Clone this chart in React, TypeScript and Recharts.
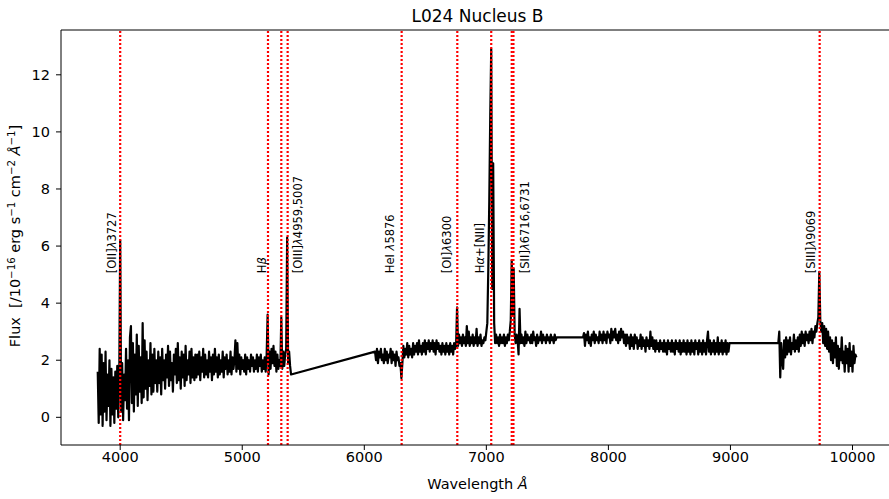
import { LineChart, Line, XAxis, YAxis, ReferenceLine, ReferenceDot } from 'recharts'

// spectrum pieces: wavelength grid start/step (Å), flux in 1e-16 erg/s/cm2/Å
const seg1Start = 3816
const seg1Step = 8
const seg1Flux = [
  1.6, -0.2, 2.4, 0.1, 2.2, -0.3, 1.9, 0.2, 2.3, -0.1,
  1.5, 0.4, 2.0, -0.3, 1.7, 0.1, 1.4, -0.2, 1.6, 0.3,
  1.8, 0.0, 1.2, 6.2, 0.2, 1.9, -0.1, 1.5, 0.6, 2.4,
  0.3, 2.0, -0.1, 2.8, 3.2, 0.5, 2.6, 0.2, 2.2, 0.8,
  2.9, 0.4, 2.5, 0.9, 2.1, 0.5, 3.3, 0.7, 2.7, 1.0,
  2.3, 0.6, 2.0, 1.1, 2.6, 0.8, 2.2, 0.9, 2.4, 1.2,
  2.0, 0.9, 2.3, 1.2, 2.1, 0.8, 2.4, 1.3, 2.0, 1.0,
  2.2, 1.4, 2.5, 1.1, 2.3, 1.3, 1.9, 0.9, 2.2, 1.5,
  2.4, 1.2, 2.6, 1.3, 2.1, 1.0, 2.3, 1.4, 2.2, 1.1,
  2.5, 1.3, 2.0, 1.5, 2.3, 1.2, 2.4, 1.4, 2.1, 1.3,
  2.2, 1.4, 2.2, 1.5, 2.3, 1.3, 2.1, 1.6, 2.4, 1.4,
  2.2, 1.5, 2.0, 1.4, 2.3, 1.6, 2.1, 1.3, 2.2, 1.5,
  2.4, 1.6, 2.1, 1.4, 2.2, 1.5, 2.0, 1.6, 2.3, 1.4,
  2.1, 1.7, 2.2, 1.5, 2.0, 1.6, 2.3, 1.5, 2.1, 1.7,
  2.0, 2.7, 1.6, 2.6, 1.7, 2.2, 1.5, 2.1, 1.7, 2.0,
  1.6, 2.2, 1.5, 2.1, 1.7, 2.0, 1.6, 2.2, 1.8, 2.1,
  1.6, 2.0, 1.7, 2.2, 1.6, 2.1, 1.8, 2.2, 1.6, 2.0,
  1.7, 2.1, 1.6, 2.2, 3.6, 1.5, 2.3, 1.7, 2.4, 1.9,
  2.5, 1.8, 2.3, 1.6, 2.2, 1.7, 2.0, 1.8, 3.5, 1.7,
  2.3, 1.8, 2.2, 2.4, 6.3, 1.9, 2.3, 1.8, 1.5,
]

const seg2Start = 6088
const seg2Step = 8
const seg2Flux = [
  2.3, 2.0, 2.4, 1.9, 2.3, 2.1, 2.4, 2.0, 2.2, 1.9,
  2.4, 2.0, 2.3, 1.9, 2.2, 2.1, 2.4, 1.9, 2.3, 2.0,
  2.2, 1.8, 2.3, 2.0, 2.1, 1.8, 1.9, 1.37, 1.9, 2.5,
  2.1, 2.4, 2.2, 2.6, 2.1, 2.5, 2.2, 2.4, 2.1, 2.6,
  2.2, 2.5, 2.3, 2.6, 2.2, 2.7, 2.3, 2.5, 2.2, 2.6,
  2.3, 2.7, 2.2, 2.6, 2.4, 2.7, 2.3, 2.6, 2.4, 2.7,
  2.3, 2.6, 2.2, 2.7, 2.4, 2.6, 2.3, 2.5, 2.2, 2.6,
  2.3, 2.5, 2.2, 2.6, 2.3, 2.5, 2.2, 2.6, 2.3, 2.5,
  2.2, 2.6, 2.4, 2.5, 3.85, 2.5, 2.9, 2.6, 2.8, 2.5,
  2.9, 2.6, 2.8, 2.5, 3.2, 2.6, 3.0, 2.5, 2.8, 2.6,
  2.9, 2.5, 2.8, 2.6, 3.1, 2.5, 2.8, 2.6, 2.9, 2.5,
  2.7, 2.6, 2.8, 2.7, 3.0, 3.3, 5.2, 7.6, 10.6, 12.9,
  4.5, 8.9, 3.3, 2.6, 2.9, 2.6, 2.8, 2.5, 2.9, 2.6,
  2.8, 2.6, 2.9, 2.5, 2.8, 2.6, 2.9, 2.7, 3.0, 3.4,
  5.5, 3.6, 5.2, 2.9, 2.6, 2.9, 2.7, 2.2, 3.8, 2.6,
  2.9, 2.6, 2.8, 2.5, 3.0, 2.6, 2.9, 2.7, 2.8, 2.6,
  2.9, 2.6, 3.0, 2.7, 2.8, 2.5, 2.9, 2.6, 2.8, 2.7,
  3.0, 2.6, 2.9, 2.7, 2.8, 2.6, 2.9, 2.7, 2.8, 2.6,
  2.9, 2.7, 2.8, 2.6, 2.9, 2.7, 2.8,
]

const seg3Start = 7792
const seg3Step = 8
const seg3Flux = [
  2.8, 2.95, 2.5, 2.9, 2.7, 3.0, 2.6, 2.8, 2.5, 2.9,
  2.7, 3.0, 2.6, 2.9, 2.7, 2.8, 2.6, 3.0, 2.7, 2.9,
  2.6, 3.0, 2.7, 2.9, 2.6, 3.0, 2.8, 2.9, 2.6, 3.1,
  2.7, 3.0, 2.8, 3.1, 2.7, 2.9, 2.6, 3.0, 2.7, 3.1,
  2.8, 3.0, 2.6, 2.9, 2.5, 2.9, 2.6, 2.8, 2.4, 2.9,
  2.5, 2.8, 2.4, 2.9, 2.6, 2.8, 2.4, 2.7, 2.5, 2.9,
  2.4, 2.8, 2.5, 2.7, 2.3, 2.8, 2.5, 2.7, 2.4, 3.0,
  2.5, 2.8, 2.4, 2.7, 2.3, 2.7, 2.4, 2.6, 2.3, 2.7,
  2.4, 2.6, 2.3, 2.7, 2.3, 2.6, 2.2, 2.7, 2.4, 2.6,
  2.3, 2.7, 2.3, 2.6, 2.2, 2.7, 2.4, 2.6, 2.3, 2.7,
  2.2, 2.6, 2.3, 2.7, 2.3, 2.6, 2.2, 2.7, 2.3, 2.6,
  2.2, 2.7, 2.3, 2.6, 2.2, 2.7, 2.4, 2.6, 2.2, 2.7,
  2.3, 2.6, 2.2, 2.7, 2.3, 2.6, 2.2, 2.7, 3.0, 2.3,
  2.7, 2.2, 2.6, 2.3, 2.7, 2.2, 2.6, 2.3, 2.8, 2.2,
  2.6, 2.3, 2.7, 2.2, 2.6, 2.3, 2.7, 2.2, 2.6, 2.3,
  2.6, 2.6,
]

const seg4Start = 9392
const seg4Step = 8
const seg4Flux = [
  2.6, 3.0, 1.4, 2.6, 2.0, 1.7, 2.7, 2.1, 2.8, 2.2,
  2.7, 2.3, 2.8, 2.2, 2.6, 2.4, 2.9, 2.3, 2.7, 2.4,
  2.8, 2.3, 2.9, 2.5, 3.0, 2.6, 2.9, 2.5, 3.0, 2.7,
  2.9, 2.6, 3.0, 2.7, 3.1, 2.6, 3.0, 2.8, 3.2, 3.0,
  3.3, 3.5, 5.1, 3.4, 3.0, 3.3, 2.6, 3.2, 2.5, 3.1,
  2.4, 3.0, 2.3, 2.8, 2.0, 2.7, 1.9, 2.6, 2.1, 2.8,
  1.8, 2.5, 1.7, 2.4, 2.0, 2.8, 1.9, 2.3, 1.6, 2.5,
  1.9, 2.4, 1.6, 2.6, 1.8, 2.3, 1.6, 2.5, 1.9, 2.2,
  2.1,
]

// observed positions of the marked lines (Å)
const lineWaves = [4000, 5211, 5320, 5372, 6306, 6762, 7040, 7208, 7222, 9731]
const labelTexts = ['[OII]λ3727', 'Hβ', '[OIII]λ4959,5007', 'HeI λ5876', '[OI]λ6300', 'Hα+[NII]', '[SII]λ6716,6731', '[SIII]λ9069']
const labelWaves = [3963, 5197, 5490, 6247, 6710, 6977, 7349, 9689]
const labelFlux = 5.05

const xTicks = [4000, 5000, 6000, 7000, 8000, 9000, 10000]
const yTicks = [0, 2, 4, 6, 8, 10, 12]
const xDomain = [3515, 10340]
const yDomain = [-0.97, 13.57]

const toPoints = (start: number, step: number, flux: number[]) =>
  flux.map((f, i) => ({ wl: start + i * step, flux: f }))

const data = [
  ...toPoints(seg1Start, seg1Step, seg1Flux),
  ...toPoints(seg2Start, seg2Step, seg2Flux),
  ...toPoints(seg3Start, seg3Step, seg3Flux),
  ...toPoints(seg4Start, seg4Step, seg4Flux),
]

const FONT = 'DejaVu Sans'

const greekParts = (s: string) =>
  s.split(/([αβλ])/).filter(Boolean).map((p, i) =>
    /[αβλ]/.test(p) ? <tspan key={i} fontStyle="italic">{p}</tspan> : <tspan key={i}>{p}</tspan>
  )

const LineLabel = ({ viewBox, text }: any) => {
  if (!viewBox) return null
  const cx = viewBox.x + (viewBox.width || 0) / 2
  const cy = viewBox.y + (viewBox.height || 0) / 2
  return (
    <text x={cx} y={cy} transform={`rotate(-90 ${cx} ${cy})`} fontSize={11.5} fontFamily={FONT} fill="#000" style={{ whiteSpace: 'pre' }}>
      {greekParts(text)}
    </text>
  )
}

const SUP = 5

export default function App() {
  return (
    <div style={{ position: 'absolute', left: 0, top: 0, width: 889, height: 499, overflow: 'hidden', background: '#fff' }}>
      <LineChart width={895} height={499} data={data} margin={{ top: 30, right: 1, bottom: 0, left: 0 }}>
        <XAxis
          dataKey="wl"
          type="number"
          domain={xDomain}
          ticks={xTicks}
          interval={0}
          allowDataOverflow
          height={54}
          tickSize={5}
          tickMargin={2}
          stroke="#000"
          axisLine={{ stroke: '#000', strokeWidth: 1 }}
          tickLine={{ stroke: '#000', strokeWidth: 1 }}
          tick={{ fill: '#000', fontSize: 14.5, fontFamily: FONT }}
        />
        <YAxis
          type="number"
          domain={yDomain}
          ticks={yTicks}
          interval={0}
          allowDataOverflow
          width={61}
          tickSize={5}
          tickMargin={6}
          stroke="#000"
          axisLine={{ stroke: '#000', strokeWidth: 1 }}
          tickLine={{ stroke: '#000', strokeWidth: 1 }}
          tick={{ fill: '#000', fontSize: 14.5, fontFamily: FONT }}
        />
        <Line
          type="linear"
          dataKey="flux"
          stroke="#000"
          strokeWidth={2.2}
          strokeLinejoin="round"
          dot={false}
          activeDot={false}
          isAnimationActive={false}
        />
        {lineWaves.map((w, i) => (
          <ReferenceLine key={'l' + i} x={w} stroke="#ff0000" strokeWidth={2.2} strokeDasharray="2 2" />
        ))}
        <ReferenceLine y={yDomain[1]} stroke="#000" strokeWidth={1} />
        {labelTexts.map((t, i) => (
          <ReferenceDot
            key={'t' + i}
            x={labelWaves[i]}
            y={labelFlux}
            r={1}
            fill="none"
            stroke="none"
            label={<LineLabel text={t} />}
          />
        ))}
      </LineChart>
      <svg width={889} height={499} style={{ position: 'absolute', left: 0, top: 0, pointerEvents: 'none' }}>
        <text x={477.5} y={21.7} textAnchor="middle" fontSize={17} fontFamily={FONT} fill="#000">
          L024 Nucleus B
        </text>
        <text x={477.5} y={489} textAnchor="middle" fontSize={14.5} fontFamily={FONT} fill="#000">
          <tspan>Wavelength </tspan>
          <tspan fontStyle="italic">Å</tspan>
        </text>
        <text x={20} y={236} textAnchor="middle" transform="rotate(-90 20 236)" fontSize={14.5} fontFamily={FONT} fill="#000" style={{ whiteSpace: 'pre' }}>
          <tspan>{'Flux  [/10'}</tspan>
          <tspan dy={-SUP} fontSize={10.2}>−16</tspan>
          <tspan dy={SUP}>{' erg s'}</tspan>
          <tspan dy={-SUP} fontSize={10.2}>−1</tspan>
          <tspan dy={SUP}>{' cm'}</tspan>
          <tspan dy={-SUP} fontSize={10.2}>−2</tspan>
          <tspan dy={SUP}>{' '}</tspan>
          <tspan fontStyle="italic">Å</tspan>
          <tspan dy={-SUP} fontSize={10.2}>−1</tspan>
          <tspan dy={SUP}>{']'}</tspan>
        </text>
      </svg>
    </div>
  )
}
